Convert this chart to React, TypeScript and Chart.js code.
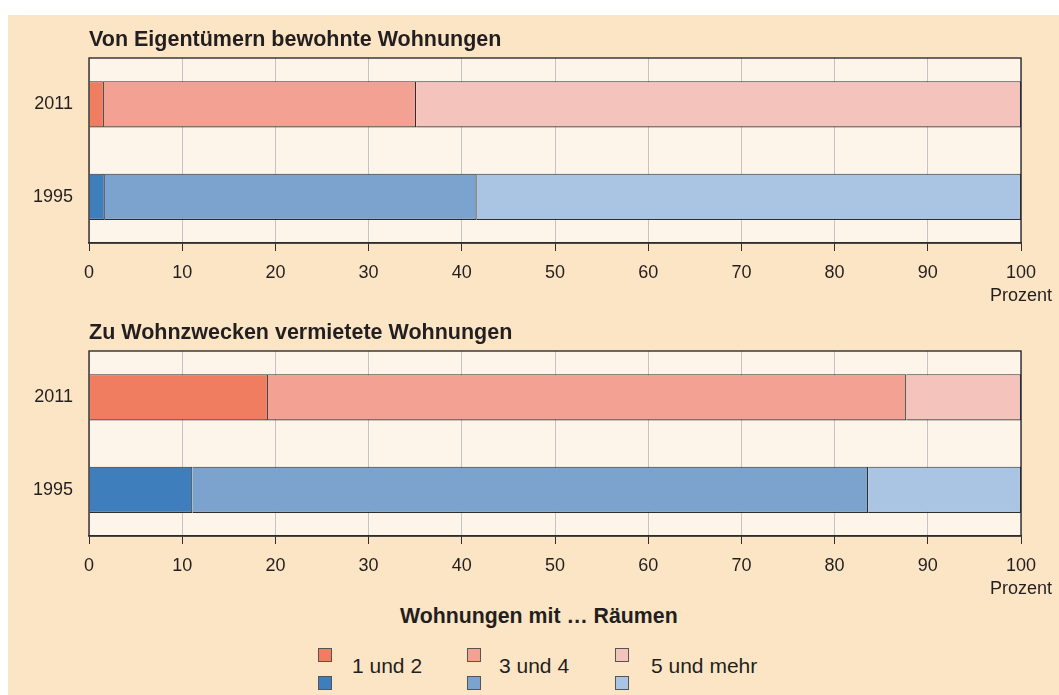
import React, { useEffect, useRef } from 'react';
import { Chart, registerables } from 'chart.js';

Chart.register(...registerables);

// ---- data ----
const years = ['2011', '1995'];
const roomClasses = ['1 und 2', '3 und 4', '5 und mehr'];
const ownerTitle = 'Von Eigentümern bewohnte Wohnungen';
const ownerRooms12 = [1.6, 1.7];
const ownerRooms34 = [33.5, 39.9];
const ownerRooms5plus = [64.9, 58.4];
const rentTitle = 'Zu Wohnzwecken vermietete Wohnungen';
const rentRooms12 = [19.2, 11.1];
const rentRooms34 = [68.5, 72.5];
const rentRooms5plus = [12.3, 16.4];
const xTickValues = [0, 10, 20, 30, 40, 50, 60, 70, 80, 90, 100];
const xUnit = 'Prozent';
const legendTitle = 'Wohnungen mit … Räumen';

// ---- styles ----
const redShades = ['#F07D5F', '#F2A192', '#F4C3BC'];
const blueShades = ['#3F7EBD', '#7BA3CE', '#AAC4E3'];
const FONT = '"Liberation Sans", Arial, Helvetica, sans-serif';
const TEXT = '#231F20';
const PAGE_BG = '#FCE5C4';
const PLOT_BG = '#FEF5EA';
const DARK = '#2E2E2E';

const plotFrame = {
  id: 'plotFrame',
  beforeDraw(chart: any) {
    const { ctx, chartArea } = chart;
    const { left, top, right, bottom } = chartArea;
    ctx.save();
    ctx.fillStyle = PLOT_BG;
    ctx.fillRect(left, top, right - left, bottom - top);
    ctx.restore();
  },
  afterDatasetsDraw(chart: any) {
    const { ctx, chartArea } = chart;
    const { left, top, right, bottom } = chartArea;
    ctx.save();
    ctx.strokeStyle = DARK;
    ctx.lineWidth = 1.4;
    ctx.strokeRect(left, top, right - left, bottom - top);
    ctx.restore();
  },
};

function BarPanel(props: { title: string; small: number[]; medium: number[]; large: number[] }) {
  const ref = useRef<HTMLCanvasElement | null>(null);
  useEffect(() => {
    if (!ref.current) return;
    const series = [props.small, props.medium, props.large];
    const chart = new Chart(ref.current, {
      type: 'bar',
      data: {
        labels: years,
        datasets: series.map((d, i) => ({
          label: roomClasses[i],
          data: d,
          backgroundColor: [redShades[i], blueShades[i]],
          borderColor: DARK,
          borderWidth: 1.2,
          borderSkipped: 'start',
          barPercentage: 0.5,
          categoryPercentage: 1,
        })),
      },
      options: {
        indexAxis: 'y',
        responsive: false,
        animation: false,
        layout: { padding: { left: 0, right: 38, top: 0, bottom: 0 } },
        plugins: {
          legend: { display: false },
          tooltip: { enabled: false },
          title: {
            display: true,
            text: props.title,
            align: 'start',
            fullSize: false,
            color: TEXT,
            font: { family: FONT, size: 21.5, weight: 'bold', lineHeight: 1.2 },
            padding: { top: 12, bottom: 5.2 },
          },
        },
        scales: {
          x: {
            stacked: true,
            min: 0,
            max: 100,
            afterBuildTicks: (scale: any) => {
              scale.ticks = xTickValues.map((v) => ({ value: v }));
            },
            afterFit: (scale: any) => {
              scale.height = 65;
              scale.paddingRight = 30;
              scale.paddingLeft = 0;
            },
            grid: {
              color: '#C4C4C4',
              lineWidth: 1,
              tickColor: DARK,
              tickLength: 8,
              drawOnChartArea: true,
            },
            border: { display: true, color: DARK, width: 1.4 },
            ticks: {
              color: TEXT,
              padding: 10,
              maxRotation: 0,
              autoSkip: false,
              font: { family: FONT, size: 18, lineHeight: 1.3 },
              callback: (v: any) => (Number(v) === 100 ? [String(v), xUnit] : String(v)),
            },
          },
          y: {
            stacked: true,
            afterFit: (scale: any) => {
              scale.width = 81;
            },
            grid: { display: false, drawTicks: false },
            border: { display: false },
            ticks: {
              color: TEXT,
              padding: 16,
              font: { family: FONT, size: 18 },
            },
          },
        },
      } as any,
      plugins: [plotFrame],
    });
    return () => chart.destroy();
  }, []);
  return <canvas ref={ref} width={1051} height={293} style={{ display: 'block' }} />;
}

const squareStyle = (color: string, left: number, top: number): React.CSSProperties => ({
  position: 'absolute',
  left,
  top,
  width: 14,
  height: 14,
  boxSizing: 'border-box',
  border: '1px solid #555',
  background: color,
});

export default function App() {
  const cols = [310, 459, 607];
  const textCols = [344, 491, 643];
  return (
    <div
      style={{
        position: 'absolute',
        left: 8,
        top: 15,
        width: 1051,
        height: 680,
        background: PAGE_BG,
        fontFamily: FONT,
        color: TEXT,
        overflow: 'hidden',
      }}
    >
      <div style={{ position: 'absolute', left: 0, top: 0 }}>
        <BarPanel title={ownerTitle} small={ownerRooms12} medium={ownerRooms34} large={ownerRooms5plus} />
      </div>
      <div style={{ position: 'absolute', left: 0, top: 293 }}>
        <BarPanel title={rentTitle} small={rentRooms12} medium={rentRooms34} large={rentRooms5plus} />
      </div>
      <div
        style={{
          position: 'absolute',
          left: 392,
          top: 589,
          fontSize: 21.3,
          lineHeight: '25px',
          fontWeight: 'bold',
          whiteSpace: 'nowrap',
        }}
      >
        {legendTitle}
      </div>
      {roomClasses.map((label, i) => (
        <React.Fragment key={label}>
          <div style={squareStyle(redShades[i], cols[i], 633)} />
          <div style={squareStyle(blueShades[i], cols[i], 661)} />
          <div
            style={{
              position: 'absolute',
              left: textCols[i],
              top: 638,
              fontSize: 21,
              lineHeight: '25px',
              whiteSpace: 'nowrap',
            }}
          >
            {label}
          </div>
        </React.Fragment>
      ))}
    </div>
  );
}
